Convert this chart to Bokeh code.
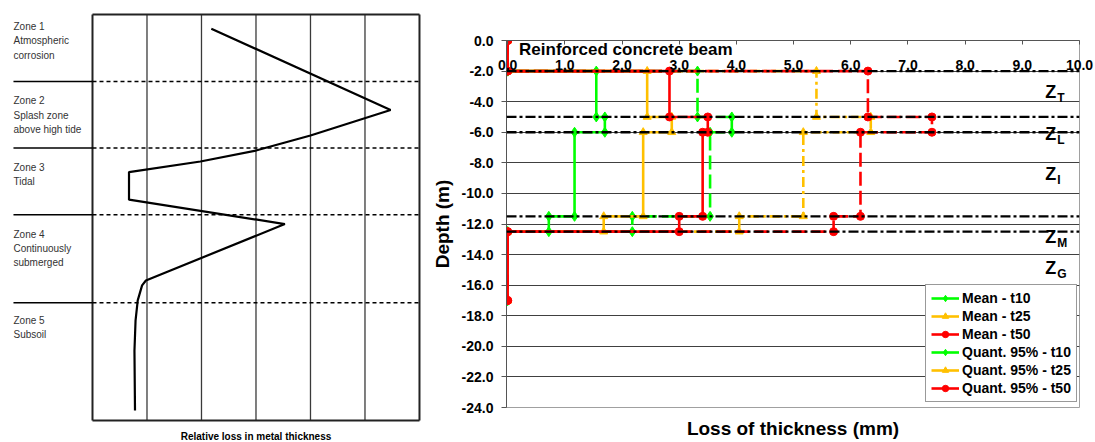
from bokeh.plotting import figure
from bokeh.layouts import row
from bokeh.models import (Range1d, FixedTicker, PrintfTickFormatter, LinearAxis, Legend,
                          LegendItem, Label, LabelSet, ColumnDataSource, Span)
from bokeh.core.properties import value
from bokeh.embed import file_html
from bokeh.resources import INLINE

FONT = "Liberation Sans"

# ---------------- left panel (schematic) ----------------
zone_names = ["Zone 1\nAtmospheric\ncorrosion",
              "Zone 2\nSplash zone\nabove high tide",
              "Zone 3\nTidal",
              "Zone 4\nContinuously\nsubmerged",
              "Zone 5\nSubsoil"]
zone_text_pos = [0.16, 1.99, 3.62, 5.27, 7.39]
zone_bounds = [1.65, 3.29, 4.93, 7.10]
column_lines = [0, 1, 2, 3, 4, 5, 6]
box_top, box_bottom = 0, 10
profile_loss = [2.18, 5.47, 4.00, 3.00, 1.98, 0.67, 0.67, 3.53, 0.98, 0.91, 0.83, 0.79, 0.77, 0.78]
profile_pos = [0.35, 2.35, 2.98, 3.35, 3.62, 3.88, 4.56, 5.16, 6.55, 6.67, 7.04, 7.54, 8.28, 9.75]
text_col_x = -1.45

# ---------------- right panel (step chart) ----------------
layer_depths = [-2.0, -5.0, -6.0, -11.5, -12.5]
top_depth = 0.0
bottom_depth = -17.0
mean_t10 = [1.55, 1.70, 1.17, 0.72]
mean_t25 = [2.44, 2.87, 2.37, 1.68]
mean_t50 = [2.83, 3.50, 3.41, 3.00]
q95_t10 = [3.32, 3.92, 3.54, 2.18]
q95_t25 = [5.40, 6.35, 5.17, 4.05]
q95_t50 = [6.30, 7.42, 6.17, 5.70]
x_ticks = [0, 1, 2, 3, 4, 5, 6, 7, 8, 9, 10]
y_ticks = [0, -2, -4, -6, -8, -10, -12, -14, -16, -18, -20, -22, -24]
zone_sub = ["T", "L", "I", "M", "G"]
zone_sub_depth = [-3.4, -6.1, -8.7, -12.85, -14.9]


def step_path(vals):
    xs = [0, 0]
    ys = [top_depth, layer_depths[0]]
    for i, v in enumerate(vals):
        xs += [v, v]
        ys += [layer_depths[i], layer_depths[i + 1]]
    xs += [0, 0]
    ys += [layer_depths[-1], bottom_depth]
    return xs, ys


# ---------- left figure ----------
p1 = figure(width=428, height=442, x_range=Range1d(-1.688, 6.037), y_range=Range1d(10.54, -0.05),
            x_axis_type=None, y_axis_type=None, output_backend="svg", toolbar_location=None,
            min_border_left=0, min_border_right=7, min_border_top=12, min_border_bottom=0,
            frame_align=False)
p1.outline_line_color = None
p1.segment(x0=column_lines[1:-1], y0=box_top, x1=column_lines[1:-1], y1=box_bottom,
           line_color="#3a3a3a", line_width=1.3)
p1.segment(x0=[column_lines[0], column_lines[-1]], y0=box_top, x1=[column_lines[0], column_lines[-1]],
           y1=box_bottom, line_color="#222222", line_width=2)
p1.segment(x0=column_lines[0], y0=[box_top, box_bottom], x1=column_lines[-1], y1=[box_top, box_bottom],
           line_color="#222222", line_width=2)
p1.segment(x0=text_col_x, x1=0, y0=zone_bounds, y1=zone_bounds, line_color="black", line_width=1.5)
p1.segment(x0=0, x1=6, y0=zone_bounds, y1=zone_bounds, line_color="black", line_width=1.5,
           line_dash="4 3")
p1.line(profile_loss, profile_pos, line_color="black", line_width=2.2)
p1.text(x=text_col_x, y=zone_text_pos, text=zone_names, text_font=value(FONT),
        text_font_size="10px", text_baseline="top", text_line_height=1.3, text_color="#333333")
p1.add_layout(Label(x=3, y=10.39, text="Relative loss in metal thickness", text_align="center",
                    text_baseline="middle", text_font=FONT, text_font_style="bold",
                    text_font_size="10px", text_color="black"))

# ---------- right figure ----------
p2 = figure(width=667, height=442, x_range=Range1d(-0.02, 10), y_range=Range1d(-24, 0),
            x_axis_location="above", output_backend="svg", toolbar_location=None,
            min_border_left=73, min_border_right=16, min_border_top=40, min_border_bottom=35,
            frame_align=False)
p2.outline_line_color = "#a0a0a0"
p2.xgrid.visible = False

top_ax = p2.above[0]
top_ax.ticker = FixedTicker(ticks=x_ticks)
top_ax.formatter = PrintfTickFormatter(format="%.1f")
top_ax.major_tick_in = 4
top_ax.major_tick_out = 0
top_ax.minor_tick_line_color = None
top_ax.major_label_standoff = -29
top_ax.axis_line_color = "#555555"
top_ax.major_tick_line_color = "#555555"
top_ax.major_label_text_font = FONT
top_ax.major_label_text_font_style = "bold"
top_ax.major_label_text_font_size = "14px"
top_ax.major_label_text_color = "black"

ya = p2.yaxis[0]
ya.ticker = FixedTicker(ticks=y_ticks)
ya.formatter = PrintfTickFormatter(format="%.1f")
ya.major_tick_in = 0
ya.major_tick_out = 5
ya.minor_tick_line_color = None
ya.major_label_standoff = 8
ya.axis_line_color = "#555555"
ya.major_tick_line_color = "#555555"
ya.major_label_text_font = FONT
ya.major_label_text_font_style = "bold"
ya.major_label_text_font_size = "14px"
ya.major_label_text_color = "black"
ya.axis_label = "Depth (m)"
ya.axis_label_standoff = 6
ya.axis_label_text_font = FONT
ya.axis_label_text_font_style = "bold"
ya.axis_label_text_font_size = "19px"
ya.axis_label_text_color = "black"

bot_ax = LinearAxis(ticker=FixedTicker(ticks=[]), axis_label="Loss of thickness (mm)",
                    axis_line_color=None, major_tick_line_color=None, minor_tick_line_color=None,
                    major_tick_out=0, major_tick_in=0, major_label_standoff=0,
                    axis_label_standoff=10, axis_label_text_font=FONT,
                    axis_label_text_font_style="bold", axis_label_text_font_size="19px",
                    axis_label_text_color="black")
p2.add_layout(bot_ax, "below")

p2.ygrid.ticker = FixedTicker(ticks=y_ticks)
p2.ygrid.grid_line_color = "#404040"
p2.ygrid.grid_line_width = 1

GREEN, ORANGE, RED = "#00FF00", "#FFC000", "#FF0000"
series = [
    ("Mean - t10", mean_t10, GREEN, "solid", "diamond", 10),
    ("Quant. 95% - t10", q95_t10, GREEN, "14 5", "diamond", 10),
    ("Mean - t25", mean_t25, ORANGE, "solid", "triangle", 8),
    ("Quant. 95% - t25", q95_t25, ORANGE, "10 4 3 4", "triangle", 8),
    ("Mean - t50", mean_t50, RED, "solid", "circle", 8),
    ("Quant. 95% - t50", q95_t50, RED, "14 5", "circle", 8),
]
rend = {}
for name, vals, col, dash, mk, sz in series:
    xs, ys = step_path(vals)
    src = ColumnDataSource(dict(x=xs, y=ys))
    ln = p2.line("x", "y", source=src, line_color=col, line_width=2.6, line_dash=dash)
    sc = p2.scatter("x", "y", source=src, marker=mk, size=sz, fill_color=col, line_color=col)
    rend[name] = [ln, sc]

for d in layer_depths:
    p2.add_layout(Span(location=d, dimension="width", line_color="black", line_width=2.3,
                       line_dash="10 3 3 3"))

p2.add_layout(Label(x=0.2, y=-0.62, text="Reinforced concrete beam", text_baseline="middle",
                    text_align="left", text_font=FONT, text_font_style="bold",
                    text_font_size="17px", text_color="black"))

zsrc = ColumnDataSource(dict(x=[9.40] * len(zone_sub), y=zone_sub_depth, z=["Z"] * len(zone_sub),
                             sub=zone_sub))
p2.add_layout(LabelSet(x="x", y="y", text="z", source=zsrc, text_baseline="middle",
                       text_align="left", text_font=value(FONT), text_font_style="bold",
                       text_font_size="18px", text_color="black"))
p2.add_layout(LabelSet(x="x", y="y", text="sub", source=zsrc, x_offset=12, y_offset=-6,
                       text_baseline="middle", text_align="left", text_font=value(FONT),
                       text_font_style="bold", text_font_size="12px", text_color="black"))

# the reference legend draws every entry as a solid line with its marker
legend_entries = [("Mean - t10", "Mean - t10"), ("Mean - t25", "Mean - t25"),
                  ("Mean - t50", "Mean - t50"), ("Quant. 95% - t10", "Mean - t10"),
                  ("Quant. 95% - t25", "Mean - t25"), ("Quant. 95% - t50", "Mean - t50")]
legend = Legend(items=[LegendItem(label=lab, renderers=rend[r]) for lab, r in legend_entries],
                location=(419, 5), label_text_font=FONT, label_text_font_style="bold",
                label_text_font_size="14px", label_text_color="black",
                glyph_width=28, glyph_height=16, label_height=16, spacing=2, padding=5,
                margin=0, label_standoff=3, border_line_color="#333333", border_line_width=1,
                background_fill_color="white", background_fill_alpha=1)
p2.add_layout(legend)

layout = row(p1, p2)
open("out.html", "w").write(file_html(layout, INLINE))
